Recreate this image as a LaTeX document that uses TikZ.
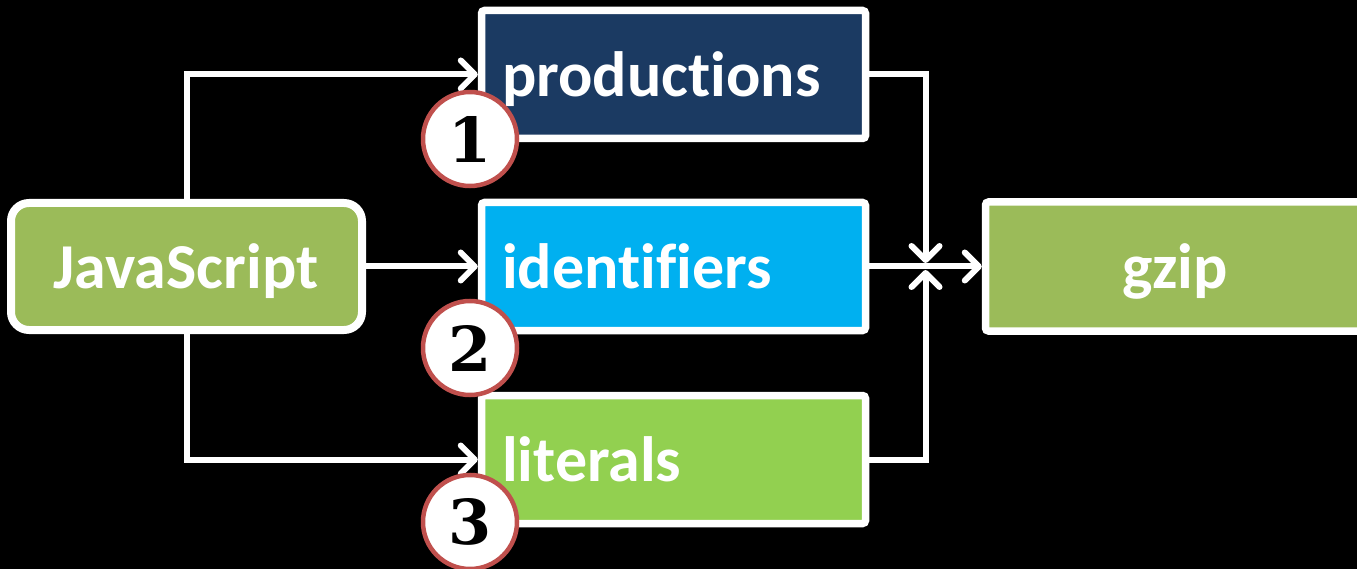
\documentclass[tikz,border=0pt]{standalone}
\usepackage{fontspec}
\setmainfont{Carlito}[Ligatures={NoCommon}]
\newfontfamily\numfont{DejaVu Serif}
\usetikzlibrary{arrows.meta}
\definecolor{jsgreen}{HTML}{9BBB59}
\definecolor{navyb}{HTML}{1B3A62}
\definecolor{cyanb}{HTML}{00B0F0}
\definecolor{litgreen}{HTML}{92D050}
\definecolor{circred}{HTML}{C0504D}
\begin{document}
\begin{tikzpicture}[x=1pt,y=-1pt,
  box/.style={draw=white, line width=7.5pt, minimum width=384pt, minimum height=128pt, inner sep=0pt, rounded corners=3pt},
  lbl/.style={text=white, font=\fontsize{64}{70}\selectfont\bfseries, inner sep=0pt},
  conn/.style={draw=white, line width=6pt, -{Straight Barb[length=14pt,width=28pt,round]}},
  num/.style={circle, draw=circred, line width=4.5pt, fill=white, minimum size=94pt, inner sep=0pt, font=\numfont\bfseries\fontsize{62}{62}\selectfont}
]
\fill[black] (0,0) rectangle (1357,569);
\useasboundingbox (0,0) rectangle (1357,569);
\clip (0,0) rectangle (1357,569);

% boxes
\node[box, fill=jsgreen, line width=8pt, minimum width=351pt, minimum height=127pt, rounded corners=18pt] (js) at (186.5,266.5) {};
\node[box, fill=navyb] (prod) at (673.5,74.5) {};
\node[box, fill=cyanb] (ident) at (673.5,266.5) {};
\node[box, fill=litgreen] (lit) at (673.5,459.5) {};
\node[box, fill=jsgreen, minimum height=129pt] (gzip) at (1177.5,266.5) {};

% labels
\node[lbl, anchor=base] (tjs) at (186,288) {JavaScript};
\node[lbl, anchor=base west] (tprod) at (502,97) {productions};
\node[lbl, anchor=base west] (tident) at (502,289) {identifiers};
\node[lbl, anchor=base west] (tlit) at (502,481) {literals};
\node[lbl, anchor=base] (tgz) at (1175,289) {gzip};

% connectors
\coordinate (jt) at (925.5,263);
\coordinate (jb) at (925.5,270);
\draw[conn] (js.north) |- (prod.west);
\draw[conn] (js.east) -- (ident.west);
\draw[conn] (js.south) |- (lit.west);
\draw[conn] (prod.east) -| (jt);
\draw[conn] (lit.east) -| (jb);
\draw[conn] (ident.east) -- (gzip.west);

% numbered circles
\node[num] (n1) at (470,139) {1};
\node[num] (n2) at (470,348) {2};
\node[num] (n3) at (470,522) {3};
\end{tikzpicture}
\end{document}
